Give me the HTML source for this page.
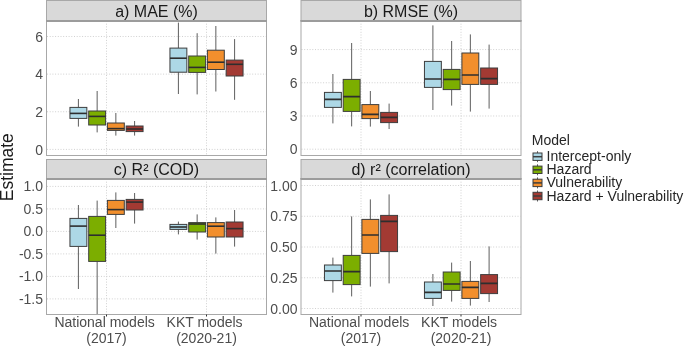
<!DOCTYPE html><html><head><meta charset="utf-8"><style>html,body{margin:0;padding:0;background:#fff;width:685px;height:346px;overflow:hidden}svg{display:block;will-change:transform;font-family:"Liberation Sans",sans-serif}</style></head><body>
<svg width="685" height="346" viewBox="0 0 685 346">
<rect width="685" height="346" fill="#fff"/>
<rect x="46.5" y="0.5" width="220" height="20" fill="#D9D9D9" stroke="#A8A8A8" stroke-width="1"/>
<text x="156.5" y="16.6" font-size="16" fill="#1A1A1A" text-anchor="middle">a) MAE (%)</text>
<rect x="46.5" y="20.5" width="220" height="135" fill="#FFFFFF"/>
<line x1="47" x2="266" y1="149.4" y2="149.4" stroke="#D0D0D0" stroke-width="1" stroke-dasharray="1 1.7"/>
<line x1="47" x2="266" y1="111.76" y2="111.76" stroke="#D0D0D0" stroke-width="1" stroke-dasharray="1 1.7"/>
<line x1="47" x2="266" y1="74.12" y2="74.12" stroke="#D0D0D0" stroke-width="1" stroke-dasharray="1 1.7"/>
<line x1="47" x2="266" y1="36.480000000000004" y2="36.480000000000004" stroke="#D0D0D0" stroke-width="1" stroke-dasharray="1 1.7"/>
<line x1="106.5" x2="106.5" y1="21" y2="155" stroke="#D0D0D0" stroke-width="1" stroke-dasharray="1 1.7"/>
<line x1="206.5" x2="206.5" y1="21" y2="155" stroke="#D0D0D0" stroke-width="1" stroke-dasharray="1 1.7"/>
<clipPath id="ca"><rect x="47" y="21" width="219" height="134"/></clipPath>
<g clip-path="url(#ca)">
<line x1="78.4" x2="78.4" y1="99" y2="107.4" stroke="#5E5E5E" stroke-width="1"/>
<line x1="78.4" x2="78.4" y1="118.4" y2="126.6" stroke="#5E5E5E" stroke-width="1"/>
<rect x="69.95" y="107.4" width="16.9" height="11.0" fill="#ADD8E6" stroke="#3D3D3D" stroke-width="1"/>
<line x1="69.95" x2="86.85000000000001" y1="113.4" y2="113.4" stroke="#2E2E2E" stroke-width="1.6"/>
<line x1="97.15" x2="97.15" y1="91" y2="111" stroke="#5E5E5E" stroke-width="1"/>
<line x1="97.15" x2="97.15" y1="125" y2="132.4" stroke="#5E5E5E" stroke-width="1"/>
<rect x="88.7" y="111" width="16.9" height="14" fill="#7CAE00" stroke="#3D3D3D" stroke-width="1"/>
<line x1="88.7" x2="105.60000000000001" y1="116.4" y2="116.4" stroke="#2E2E2E" stroke-width="1.6"/>
<line x1="115.85" x2="115.85" y1="113" y2="123" stroke="#5E5E5E" stroke-width="1"/>
<line x1="115.85" x2="115.85" y1="130.4" y2="135.6" stroke="#5E5E5E" stroke-width="1"/>
<rect x="107.39999999999999" y="123" width="16.9" height="7.400000000000006" fill="#F28F2D" stroke="#3D3D3D" stroke-width="1"/>
<line x1="107.39999999999999" x2="124.3" y1="128.6" y2="128.6" stroke="#2E2E2E" stroke-width="1.6"/>
<line x1="134.6" x2="134.6" y1="121" y2="126" stroke="#5E5E5E" stroke-width="1"/>
<line x1="134.6" x2="134.6" y1="131.6" y2="135.6" stroke="#5E5E5E" stroke-width="1"/>
<rect x="126.14999999999999" y="126" width="16.9" height="5.599999999999994" fill="#A33A33" stroke="#3D3D3D" stroke-width="1"/>
<line x1="126.14999999999999" x2="143.04999999999998" y1="129" y2="129" stroke="#2E2E2E" stroke-width="1.6"/>
<line x1="178.4" x2="178.4" y1="22.6" y2="48.1" stroke="#5E5E5E" stroke-width="1"/>
<line x1="178.4" x2="178.4" y1="72.2" y2="94" stroke="#5E5E5E" stroke-width="1"/>
<rect x="169.95000000000002" y="48.1" width="16.9" height="24.1" fill="#ADD8E6" stroke="#3D3D3D" stroke-width="1"/>
<line x1="169.95000000000002" x2="186.85" y1="58.2" y2="58.2" stroke="#2E2E2E" stroke-width="1.6"/>
<line x1="197.15" x2="197.15" y1="33.2" y2="56" stroke="#5E5E5E" stroke-width="1"/>
<line x1="197.15" x2="197.15" y1="72.4" y2="94.4" stroke="#5E5E5E" stroke-width="1"/>
<rect x="188.70000000000002" y="56" width="16.9" height="16.400000000000006" fill="#7CAE00" stroke="#3D3D3D" stroke-width="1"/>
<line x1="188.70000000000002" x2="205.6" y1="67.4" y2="67.4" stroke="#2E2E2E" stroke-width="1.6"/>
<line x1="215.85" x2="215.85" y1="26" y2="50.2" stroke="#5E5E5E" stroke-width="1"/>
<line x1="215.85" x2="215.85" y1="69.5" y2="91.5" stroke="#5E5E5E" stroke-width="1"/>
<rect x="207.4" y="50.2" width="16.9" height="19.299999999999997" fill="#F28F2D" stroke="#3D3D3D" stroke-width="1"/>
<line x1="207.4" x2="224.29999999999998" y1="62.2" y2="62.2" stroke="#2E2E2E" stroke-width="1.6"/>
<line x1="234.6" x2="234.6" y1="39.1" y2="60.1" stroke="#5E5E5E" stroke-width="1"/>
<line x1="234.6" x2="234.6" y1="76" y2="99.8" stroke="#5E5E5E" stroke-width="1"/>
<rect x="226.15" y="60.1" width="16.9" height="15.899999999999999" fill="#A33A33" stroke="#3D3D3D" stroke-width="1"/>
<line x1="226.15" x2="243.04999999999998" y1="64.3" y2="64.3" stroke="#2E2E2E" stroke-width="1.6"/>
</g>
<rect x="46.5" y="20.5" width="220" height="135" fill="none" stroke="#A8A8A8" stroke-width="1"/>
<line x1="46" x2="267" y1="21" y2="21" stroke="#9C9C9C" stroke-width="2"/>
<text x="43" y="154.6" font-size="14" fill="#4D4D4D" text-anchor="end">0</text>
<text x="43" y="116.96000000000001" font-size="14" fill="#4D4D4D" text-anchor="end">2</text>
<text x="43" y="79.32000000000001" font-size="14" fill="#4D4D4D" text-anchor="end">4</text>
<text x="43" y="41.68000000000001" font-size="14" fill="#4D4D4D" text-anchor="end">6</text>
<rect x="301.0" y="0.5" width="220.0" height="20" fill="#D9D9D9" stroke="#A8A8A8" stroke-width="1"/>
<text x="411.0" y="16.6" font-size="16" fill="#1A1A1A" text-anchor="middle">b) RMSE (%)</text>
<rect x="301.0" y="20.5" width="220.0" height="135" fill="#FFFFFF"/>
<line x1="301.5" x2="520.5" y1="149.2" y2="149.2" stroke="#D0D0D0" stroke-width="1" stroke-dasharray="1 1.7"/>
<line x1="301.5" x2="520.5" y1="115.98999999999998" y2="115.98999999999998" stroke="#D0D0D0" stroke-width="1" stroke-dasharray="1 1.7"/>
<line x1="301.5" x2="520.5" y1="82.77999999999999" y2="82.77999999999999" stroke="#D0D0D0" stroke-width="1" stroke-dasharray="1 1.7"/>
<line x1="301.5" x2="520.5" y1="49.56999999999999" y2="49.56999999999999" stroke="#D0D0D0" stroke-width="1" stroke-dasharray="1 1.7"/>
<line x1="361.0" x2="361.0" y1="21" y2="155" stroke="#D0D0D0" stroke-width="1" stroke-dasharray="1 1.7"/>
<line x1="461.0" x2="461.0" y1="21" y2="155" stroke="#D0D0D0" stroke-width="1" stroke-dasharray="1 1.7"/>
<clipPath id="cb"><rect x="301.5" y="21" width="219.0" height="134"/></clipPath>
<g clip-path="url(#cb)">
<line x1="332.9" x2="332.9" y1="74" y2="92.4" stroke="#5E5E5E" stroke-width="1"/>
<line x1="332.9" x2="332.9" y1="107.4" y2="123.4" stroke="#5E5E5E" stroke-width="1"/>
<rect x="324.45" y="92.4" width="16.9" height="15.0" fill="#ADD8E6" stroke="#3D3D3D" stroke-width="1"/>
<line x1="324.45" x2="341.34999999999997" y1="99.4" y2="99.4" stroke="#2E2E2E" stroke-width="1.6"/>
<line x1="351.65" x2="351.65" y1="43" y2="79.4" stroke="#5E5E5E" stroke-width="1"/>
<line x1="351.65" x2="351.65" y1="111.4" y2="126.4" stroke="#5E5E5E" stroke-width="1"/>
<rect x="343.2" y="79.4" width="16.9" height="32.0" fill="#7CAE00" stroke="#3D3D3D" stroke-width="1"/>
<line x1="343.2" x2="360.09999999999997" y1="96.6" y2="96.6" stroke="#2E2E2E" stroke-width="1.6"/>
<line x1="370.35" x2="370.35" y1="91" y2="104.6" stroke="#5E5E5E" stroke-width="1"/>
<line x1="370.35" x2="370.35" y1="118.6" y2="126.6" stroke="#5E5E5E" stroke-width="1"/>
<rect x="361.90000000000003" y="104.6" width="16.9" height="14.0" fill="#F28F2D" stroke="#3D3D3D" stroke-width="1"/>
<line x1="361.90000000000003" x2="378.8" y1="114.4" y2="114.4" stroke="#2E2E2E" stroke-width="1.6"/>
<line x1="389.1" x2="389.1" y1="103.6" y2="112.4" stroke="#5E5E5E" stroke-width="1"/>
<line x1="389.1" x2="389.1" y1="122.6" y2="129" stroke="#5E5E5E" stroke-width="1"/>
<rect x="380.65000000000003" y="112.4" width="16.9" height="10.199999999999989" fill="#A33A33" stroke="#3D3D3D" stroke-width="1"/>
<line x1="380.65000000000003" x2="397.55" y1="117.4" y2="117.4" stroke="#2E2E2E" stroke-width="1.6"/>
<line x1="432.9" x2="432.9" y1="25.4" y2="61.4" stroke="#5E5E5E" stroke-width="1"/>
<line x1="432.9" x2="432.9" y1="87.4" y2="110" stroke="#5E5E5E" stroke-width="1"/>
<rect x="424.45" y="61.4" width="16.9" height="26.000000000000007" fill="#ADD8E6" stroke="#3D3D3D" stroke-width="1"/>
<line x1="424.45" x2="441.34999999999997" y1="79" y2="79" stroke="#2E2E2E" stroke-width="1.6"/>
<line x1="451.65" x2="451.65" y1="41" y2="69.4" stroke="#5E5E5E" stroke-width="1"/>
<line x1="451.65" x2="451.65" y1="89.6" y2="105.6" stroke="#5E5E5E" stroke-width="1"/>
<rect x="443.2" y="69.4" width="16.9" height="20.19999999999999" fill="#7CAE00" stroke="#3D3D3D" stroke-width="1"/>
<line x1="443.2" x2="460.09999999999997" y1="79.4" y2="79.4" stroke="#2E2E2E" stroke-width="1.6"/>
<line x1="470.35" x2="470.35" y1="34.4" y2="53" stroke="#5E5E5E" stroke-width="1"/>
<line x1="470.35" x2="470.35" y1="84.4" y2="111.6" stroke="#5E5E5E" stroke-width="1"/>
<rect x="461.90000000000003" y="53" width="16.9" height="31.400000000000006" fill="#F28F2D" stroke="#3D3D3D" stroke-width="1"/>
<line x1="461.90000000000003" x2="478.8" y1="75" y2="75" stroke="#2E2E2E" stroke-width="1.6"/>
<line x1="489.1" x2="489.1" y1="44.6" y2="68" stroke="#5E5E5E" stroke-width="1"/>
<line x1="489.1" x2="489.1" y1="84.4" y2="108.6" stroke="#5E5E5E" stroke-width="1"/>
<rect x="480.65000000000003" y="68" width="16.9" height="16.400000000000006" fill="#A33A33" stroke="#3D3D3D" stroke-width="1"/>
<line x1="480.65000000000003" x2="497.55" y1="78.6" y2="78.6" stroke="#2E2E2E" stroke-width="1.6"/>
</g>
<rect x="301.0" y="20.5" width="220.0" height="135" fill="none" stroke="#A8A8A8" stroke-width="1"/>
<line x1="300.5" x2="521.5" y1="21" y2="21" stroke="#9C9C9C" stroke-width="2"/>
<text x="297.5" y="154.39999999999998" font-size="14" fill="#4D4D4D" text-anchor="end">0</text>
<text x="297.5" y="121.18999999999998" font-size="14" fill="#4D4D4D" text-anchor="end">3</text>
<text x="297.5" y="87.97999999999999" font-size="14" fill="#4D4D4D" text-anchor="end">6</text>
<text x="297.5" y="54.769999999999996" font-size="14" fill="#4D4D4D" text-anchor="end">9</text>
<rect x="46.5" y="159.5" width="220" height="19" fill="#D9D9D9" stroke="#A8A8A8" stroke-width="1"/>
<text x="156.5" y="174.6" font-size="16" fill="#1A1A1A" text-anchor="middle">c) R² (COD)</text>
<rect x="46.5" y="178.5" width="220" height="136" fill="#FFFFFF"/>
<line x1="47" x2="266" y1="186.4" y2="186.4" stroke="#D0D0D0" stroke-width="1" stroke-dasharray="1 1.7"/>
<line x1="47" x2="266" y1="208.9" y2="208.9" stroke="#D0D0D0" stroke-width="1" stroke-dasharray="1 1.7"/>
<line x1="47" x2="266" y1="231.4" y2="231.4" stroke="#D0D0D0" stroke-width="1" stroke-dasharray="1 1.7"/>
<line x1="47" x2="266" y1="253.9" y2="253.9" stroke="#D0D0D0" stroke-width="1" stroke-dasharray="1 1.7"/>
<line x1="47" x2="266" y1="276.4" y2="276.4" stroke="#D0D0D0" stroke-width="1" stroke-dasharray="1 1.7"/>
<line x1="47" x2="266" y1="298.9" y2="298.9" stroke="#D0D0D0" stroke-width="1" stroke-dasharray="1 1.7"/>
<line x1="106.5" x2="106.5" y1="179" y2="314" stroke="#D0D0D0" stroke-width="1" stroke-dasharray="1 1.7"/>
<line x1="206.5" x2="206.5" y1="179" y2="314" stroke="#D0D0D0" stroke-width="1" stroke-dasharray="1 1.7"/>
<clipPath id="cc"><rect x="47" y="179" width="219" height="135"/></clipPath>
<g clip-path="url(#cc)">
<line x1="78.4" x2="78.4" y1="205" y2="218.4" stroke="#5E5E5E" stroke-width="1"/>
<line x1="78.4" x2="78.4" y1="246.4" y2="289" stroke="#5E5E5E" stroke-width="1"/>
<rect x="69.95" y="218.4" width="16.9" height="28.0" fill="#ADD8E6" stroke="#3D3D3D" stroke-width="1"/>
<line x1="69.95" x2="86.85000000000001" y1="226.1" y2="226.1" stroke="#2E2E2E" stroke-width="1.6"/>
<line x1="97.15" x2="97.15" y1="200.6" y2="216.4" stroke="#5E5E5E" stroke-width="1"/>
<line x1="97.15" x2="97.15" y1="261.4" y2="320" stroke="#5E5E5E" stroke-width="1"/>
<rect x="88.7" y="216.4" width="16.9" height="44.99999999999997" fill="#7CAE00" stroke="#3D3D3D" stroke-width="1"/>
<line x1="88.7" x2="105.60000000000001" y1="235.2" y2="235.2" stroke="#2E2E2E" stroke-width="1.6"/>
<line x1="115.85" x2="115.85" y1="192.4" y2="200.4" stroke="#5E5E5E" stroke-width="1"/>
<line x1="115.85" x2="115.85" y1="214.4" y2="228" stroke="#5E5E5E" stroke-width="1"/>
<rect x="107.39999999999999" y="200.4" width="16.9" height="14.0" fill="#F28F2D" stroke="#3D3D3D" stroke-width="1"/>
<line x1="107.39999999999999" x2="124.3" y1="209.6" y2="209.6" stroke="#2E2E2E" stroke-width="1.6"/>
<line x1="134.6" x2="134.6" y1="193" y2="199.4" stroke="#5E5E5E" stroke-width="1"/>
<line x1="134.6" x2="134.6" y1="210" y2="223.6" stroke="#5E5E5E" stroke-width="1"/>
<rect x="126.14999999999999" y="199.4" width="16.9" height="10.599999999999994" fill="#A33A33" stroke="#3D3D3D" stroke-width="1"/>
<line x1="126.14999999999999" x2="143.04999999999998" y1="202.1" y2="202.1" stroke="#2E2E2E" stroke-width="1.6"/>
<line x1="178.4" x2="178.4" y1="221.6" y2="224.4" stroke="#5E5E5E" stroke-width="1"/>
<line x1="178.4" x2="178.4" y1="229.4" y2="234.4" stroke="#5E5E5E" stroke-width="1"/>
<rect x="169.95000000000002" y="224.4" width="16.9" height="5.0" fill="#ADD8E6" stroke="#3D3D3D" stroke-width="1"/>
<line x1="169.95000000000002" x2="186.85" y1="227" y2="227" stroke="#2E2E2E" stroke-width="1.6"/>
<line x1="197.15" x2="197.15" y1="214.4" y2="222.6" stroke="#5E5E5E" stroke-width="1"/>
<line x1="197.15" x2="197.15" y1="232" y2="239.6" stroke="#5E5E5E" stroke-width="1"/>
<rect x="188.70000000000002" y="222.6" width="16.9" height="9.400000000000006" fill="#7CAE00" stroke="#3D3D3D" stroke-width="1"/>
<line x1="188.70000000000002" x2="205.6" y1="224" y2="224" stroke="#2E2E2E" stroke-width="1.6"/>
<line x1="215.85" x2="215.85" y1="217.4" y2="222.6" stroke="#5E5E5E" stroke-width="1"/>
<line x1="215.85" x2="215.85" y1="237" y2="253.6" stroke="#5E5E5E" stroke-width="1"/>
<rect x="207.4" y="222.6" width="16.9" height="14.400000000000006" fill="#F28F2D" stroke="#3D3D3D" stroke-width="1"/>
<line x1="207.4" x2="224.29999999999998" y1="226.2" y2="226.2" stroke="#2E2E2E" stroke-width="1.6"/>
<line x1="234.6" x2="234.6" y1="210" y2="222" stroke="#5E5E5E" stroke-width="1"/>
<line x1="234.6" x2="234.6" y1="237" y2="246.6" stroke="#5E5E5E" stroke-width="1"/>
<rect x="226.15" y="222" width="16.9" height="15" fill="#A33A33" stroke="#3D3D3D" stroke-width="1"/>
<line x1="226.15" x2="243.04999999999998" y1="228.6" y2="228.6" stroke="#2E2E2E" stroke-width="1.6"/>
</g>
<rect x="46.5" y="178.5" width="220" height="136" fill="none" stroke="#A8A8A8" stroke-width="1"/>
<line x1="46" x2="267" y1="179" y2="179" stroke="#9C9C9C" stroke-width="2"/>
<text x="43" y="191.20000000000002" font-size="14" fill="#4D4D4D" text-anchor="end">1.0</text>
<text x="43" y="213.70000000000002" font-size="14" fill="#4D4D4D" text-anchor="end">0.5</text>
<text x="43" y="236.20000000000002" font-size="14" fill="#4D4D4D" text-anchor="end">0.0</text>
<text x="43" y="258.7" font-size="14" fill="#4D4D4D" text-anchor="end">-0.5</text>
<text x="43" y="281.2" font-size="14" fill="#4D4D4D" text-anchor="end">-1.0</text>
<text x="43" y="303.7" font-size="14" fill="#4D4D4D" text-anchor="end">-1.5</text>
<rect x="301.0" y="159.5" width="220.0" height="19" fill="#D9D9D9" stroke="#A8A8A8" stroke-width="1"/>
<text x="411.0" y="174.6" font-size="16" fill="#1A1A1A" text-anchor="middle">d) r² (correlation)</text>
<rect x="301.0" y="178.5" width="220.0" height="136" fill="#FFFFFF"/>
<line x1="301.5" x2="520.5" y1="185.5" y2="185.5" stroke="#D0D0D0" stroke-width="1" stroke-dasharray="1 1.7"/>
<line x1="301.5" x2="520.5" y1="216.25" y2="216.25" stroke="#D0D0D0" stroke-width="1" stroke-dasharray="1 1.7"/>
<line x1="301.5" x2="520.5" y1="247.0" y2="247.0" stroke="#D0D0D0" stroke-width="1" stroke-dasharray="1 1.7"/>
<line x1="301.5" x2="520.5" y1="277.75" y2="277.75" stroke="#D0D0D0" stroke-width="1" stroke-dasharray="1 1.7"/>
<line x1="301.5" x2="520.5" y1="308.5" y2="308.5" stroke="#D0D0D0" stroke-width="1" stroke-dasharray="1 1.7"/>
<line x1="361.0" x2="361.0" y1="179" y2="314" stroke="#D0D0D0" stroke-width="1" stroke-dasharray="1 1.7"/>
<line x1="461.0" x2="461.0" y1="179" y2="314" stroke="#D0D0D0" stroke-width="1" stroke-dasharray="1 1.7"/>
<clipPath id="cd"><rect x="301.5" y="179" width="219.0" height="135"/></clipPath>
<g clip-path="url(#cd)">
<line x1="332.9" x2="332.9" y1="257.6" y2="265" stroke="#5E5E5E" stroke-width="1"/>
<line x1="332.9" x2="332.9" y1="280.6" y2="292.6" stroke="#5E5E5E" stroke-width="1"/>
<rect x="324.45" y="265" width="16.9" height="15.600000000000023" fill="#ADD8E6" stroke="#3D3D3D" stroke-width="1"/>
<line x1="324.45" x2="341.34999999999997" y1="271" y2="271" stroke="#2E2E2E" stroke-width="1.6"/>
<line x1="351.65" x2="351.65" y1="216.4" y2="255.4" stroke="#5E5E5E" stroke-width="1"/>
<line x1="351.65" x2="351.65" y1="284.6" y2="296.4" stroke="#5E5E5E" stroke-width="1"/>
<rect x="343.2" y="255.4" width="16.9" height="29.200000000000017" fill="#7CAE00" stroke="#3D3D3D" stroke-width="1"/>
<line x1="343.2" x2="360.09999999999997" y1="271.6" y2="271.6" stroke="#2E2E2E" stroke-width="1.6"/>
<line x1="370.35" x2="370.35" y1="199.4" y2="219.4" stroke="#5E5E5E" stroke-width="1"/>
<line x1="370.35" x2="370.35" y1="253.4" y2="286.6" stroke="#5E5E5E" stroke-width="1"/>
<rect x="361.90000000000003" y="219.4" width="16.9" height="34.0" fill="#F28F2D" stroke="#3D3D3D" stroke-width="1"/>
<line x1="361.90000000000003" x2="378.8" y1="235" y2="235" stroke="#2E2E2E" stroke-width="1.6"/>
<line x1="389.1" x2="389.1" y1="194.4" y2="215.4" stroke="#5E5E5E" stroke-width="1"/>
<line x1="389.1" x2="389.1" y1="251.6" y2="283.4" stroke="#5E5E5E" stroke-width="1"/>
<rect x="380.65000000000003" y="215.4" width="16.9" height="36.19999999999999" fill="#A33A33" stroke="#3D3D3D" stroke-width="1"/>
<line x1="380.65000000000003" x2="397.55" y1="221.4" y2="221.4" stroke="#2E2E2E" stroke-width="1.6"/>
<line x1="432.9" x2="432.9" y1="274" y2="282" stroke="#5E5E5E" stroke-width="1"/>
<line x1="432.9" x2="432.9" y1="298.4" y2="306" stroke="#5E5E5E" stroke-width="1"/>
<rect x="424.45" y="282" width="16.9" height="16.399999999999977" fill="#ADD8E6" stroke="#3D3D3D" stroke-width="1"/>
<line x1="424.45" x2="441.34999999999997" y1="292.4" y2="292.4" stroke="#2E2E2E" stroke-width="1.6"/>
<line x1="451.65" x2="451.65" y1="262.6" y2="272" stroke="#5E5E5E" stroke-width="1"/>
<line x1="451.65" x2="451.65" y1="290.4" y2="301.6" stroke="#5E5E5E" stroke-width="1"/>
<rect x="443.2" y="272" width="16.9" height="18.399999999999977" fill="#7CAE00" stroke="#3D3D3D" stroke-width="1"/>
<line x1="443.2" x2="460.09999999999997" y1="284" y2="284" stroke="#2E2E2E" stroke-width="1.6"/>
<line x1="470.35" x2="470.35" y1="261" y2="281.4" stroke="#5E5E5E" stroke-width="1"/>
<line x1="470.35" x2="470.35" y1="298.4" y2="305.6" stroke="#5E5E5E" stroke-width="1"/>
<rect x="461.90000000000003" y="281.4" width="16.9" height="17.0" fill="#F28F2D" stroke="#3D3D3D" stroke-width="1"/>
<line x1="461.90000000000003" x2="478.8" y1="287.4" y2="287.4" stroke="#2E2E2E" stroke-width="1.6"/>
<line x1="489.1" x2="489.1" y1="246.4" y2="274.6" stroke="#5E5E5E" stroke-width="1"/>
<line x1="489.1" x2="489.1" y1="293.6" y2="302" stroke="#5E5E5E" stroke-width="1"/>
<rect x="480.65000000000003" y="274.6" width="16.9" height="19.0" fill="#A33A33" stroke="#3D3D3D" stroke-width="1"/>
<line x1="480.65000000000003" x2="497.55" y1="283.4" y2="283.4" stroke="#2E2E2E" stroke-width="1.6"/>
</g>
<rect x="301.0" y="178.5" width="220.0" height="136" fill="none" stroke="#A8A8A8" stroke-width="1"/>
<line x1="300.5" x2="521.5" y1="179" y2="179" stroke="#9C9C9C" stroke-width="2"/>
<text x="297.5" y="190.7" font-size="14" fill="#4D4D4D" text-anchor="end">1.00</text>
<text x="297.5" y="221.45" font-size="14" fill="#4D4D4D" text-anchor="end">0.75</text>
<text x="297.5" y="252.2" font-size="14" fill="#4D4D4D" text-anchor="end">0.50</text>
<text x="297.5" y="282.95" font-size="14" fill="#4D4D4D" text-anchor="end">0.25</text>
<text x="297.5" y="313.7" font-size="14" fill="#4D4D4D" text-anchor="end">0.00</text>
<line x1="106.5" x2="106.5" y1="314.5" y2="316.5" stroke="#333" stroke-width="1"/>
<line x1="206.5" x2="206.5" y1="314.5" y2="316.5" stroke="#333" stroke-width="1"/>
<text x="104.6" y="327.2" font-size="14" fill="#4D4D4D" text-anchor="middle">National models</text>
<text x="106.5" y="342.7" font-size="14" fill="#4D4D4D" text-anchor="middle">(2017)</text>
<text x="204.6" y="327.2" font-size="14" fill="#4D4D4D" text-anchor="middle">KKT models</text>
<text x="206.5" y="342.7" font-size="14" fill="#4D4D4D" text-anchor="middle">(2020-21)</text>
<line x1="361.0" x2="361.0" y1="314.5" y2="316.5" stroke="#333" stroke-width="1"/>
<line x1="461.0" x2="461.0" y1="314.5" y2="316.5" stroke="#333" stroke-width="1"/>
<text x="359.1" y="327.2" font-size="14" fill="#4D4D4D" text-anchor="middle">National models</text>
<text x="361.0" y="342.7" font-size="14" fill="#4D4D4D" text-anchor="middle">(2017)</text>
<text x="459.1" y="327.2" font-size="14" fill="#4D4D4D" text-anchor="middle">KKT models</text>
<text x="461.0" y="342.7" font-size="14" fill="#4D4D4D" text-anchor="middle">(2020-21)</text>
<text x="13" y="167.2" font-size="17.5" fill="#1A1A1A" text-anchor="middle" transform="rotate(-90 13 167.2)">Estimate</text>
<text x="531.8" y="145" font-size="14" fill="#262626">Model</text>
<line x1="537.5" x2="537.5" y1="151.2" y2="162.2" stroke="#5E5E5E" stroke-width="1"/>
<rect x="533.0" y="153.0" width="9" height="7.4" fill="#ADD8E6" stroke="#3D3D3D" stroke-width="1"/>
<line x1="533.0" x2="542.0" y1="156.7" y2="156.7" stroke="#3D3D3D" stroke-width="1.5"/>
<text x="546.5" y="161.2" font-size="14" fill="#262626">Intercept-only</text>
<line x1="537.5" x2="537.5" y1="164.29999999999998" y2="175.29999999999998" stroke="#5E5E5E" stroke-width="1"/>
<rect x="533.0" y="166.1" width="9" height="7.4" fill="#7CAE00" stroke="#3D3D3D" stroke-width="1"/>
<line x1="533.0" x2="542.0" y1="169.79999999999998" y2="169.79999999999998" stroke="#3D3D3D" stroke-width="1.5"/>
<text x="546.5" y="174.29999999999998" font-size="14" fill="#262626">Hazard</text>
<line x1="537.5" x2="537.5" y1="177.39999999999998" y2="188.39999999999998" stroke="#5E5E5E" stroke-width="1"/>
<rect x="533.0" y="179.2" width="9" height="7.4" fill="#F28F2D" stroke="#3D3D3D" stroke-width="1"/>
<line x1="533.0" x2="542.0" y1="182.89999999999998" y2="182.89999999999998" stroke="#3D3D3D" stroke-width="1.5"/>
<text x="546.5" y="187.39999999999998" font-size="14" fill="#262626">Vulnerability</text>
<line x1="537.5" x2="537.5" y1="190.5" y2="201.5" stroke="#5E5E5E" stroke-width="1"/>
<rect x="533.0" y="192.3" width="9" height="7.4" fill="#A33A33" stroke="#3D3D3D" stroke-width="1"/>
<line x1="533.0" x2="542.0" y1="196.0" y2="196.0" stroke="#3D3D3D" stroke-width="1.5"/>
<text x="546.5" y="200.5" font-size="14" fill="#262626">Hazard + Vulnerability</text>
</svg></body></html>
